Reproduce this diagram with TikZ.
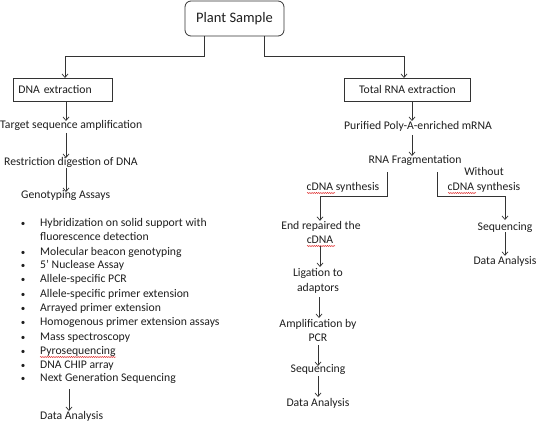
\documentclass[tikz,border=0pt]{standalone}
\usepackage{fontspec}
\setmainfont{Carlito}
\usetikzlibrary{arrows.meta,decorations.pathmorphing}
\definecolor{ink}{HTML}{1E1E1E}
\definecolor{wire}{HTML}{333333}
\tikzset{
  txt/.style={inner sep=0pt, text height=8pt, text depth=2pt, font=\fontsize{11.7}{14}\selectfont, text=ink},
  ctxt/.style={txt, align=center},
  ltxt/.style={txt, anchor=west},
  bul/.style={txt, font=\fontsize{9}{10}\selectfont},
  boxnode/.style={draw=wire, line width=0.8pt, inner sep=0pt, font=\fontsize{11.7}{14}\selectfont, text=ink},
  arr/.style={draw=wire, line width=0.7pt, -{Straight Barb[length=3.5pt,width=6pt]}},
  squig/.style={draw=red!85!black, line width=0.4pt, decorate, decoration={snake, amplitude=0.5pt, segment length=2.2pt}}
}
\begin{document}
\begin{tikzpicture}[x=1pt,y=-1pt]
\useasboundingbox (0,0) rectangle (537,422);
% top box
\node[boxnode, rounded corners=6pt, minimum width=99pt, minimum height=35pt, font=\fontsize{14.5}{17}\selectfont] (ps) at (234.5,18.5) {Plant Sample};
\node[boxnode, minimum width=99pt, minimum height=23pt, anchor=north west, align=left, text width=89pt, inner xsep=5pt] (dna) at (13,78) {DNA extraction};
\node[boxnode, minimum width=126pt, minimum height=23pt, anchor=north west] (rna) at (344,78) {Total RNA extraction};
\draw[arr] (ps.south -| 204,0) -- (204,56) -| (dna.north -| 65,0);
\draw[arr] (ps.south -| 264,0) -- (264,56) -| (rna.north -| 404,0);
% left column
\node[ltxt] (tsa) at (0,126) {Target sequence amplification};
\node[ltxt] (rdd) at (4,162) {Restriction digestion of DNA};
\node[ltxt] (ga) at (21,195) {Genotyping Assays};
\draw[arr] (dna.south -| 66,0) -- (66,121);
\draw[arr] (66,133) -- (66,158);
\draw[arr] (66,168) -- (66,192);
% bullet list
\foreach \yy/\tt [count=\i] in {
 223/{Hybridization on solid support with},
 252/{Molecular beacon genotyping},
 265/{5’ Nuclease Assay},
 279/{Allele-specific PCR},
 294/{Allele-specific primer extension},
 308/{Arrayed primer extension},
 322/{Homogenous primer extension assays},
 337/{Mass spectroscopy},
 351/{Pyrosequencing},
 365/{DNA CHIP array},
 378/{Next Generation Sequencing}}{
  \node[bul] (b\i) at (23,\yy) {•};
  \node[ltxt] (it\i) at (40,\yy) {\tt};
}
\node[ltxt] (it1b) at (40,237) {fluorescence detection};
\draw[squig] (40,357) -- (116,357);
\node[ltxt] (dal) at (40,416) {Data Analysis};
\draw[arr] (69,389) -- (69,411);
% right column
\node[ctxt] (pm) at (418,127) {Purified Poly-A-enriched mRNA};
\node[ctxt] (fr) at (415,161) {RNA Fragmentation};
\draw[arr] (rna.south -| 412,0) -- (412,121);
\draw[arr] (412,135) -- (412,156);
\node[ctxt] (cs) at (343,187) {cDNA synthesis};
\draw[squig] (307,193) -- (335,193);
\node[ctxt] (wo) at (484,172) {Without};
\node[ctxt] (wcs) at (484,187) {cDNA synthesis};
\draw[squig] (448,193) -- (476,193);
\coordinate (fl) at (387,172);
\coordinate (frr) at (437,172);
\node[ctxt] (er) at (321,226) {End repaired the};
\node[ctxt] (er2) at (320,240) {cDNA};
\draw[squig] (307,246) -- (335,246);
\draw[arr] (fl) -- (387,196) -| (er.north -| 320,0);
\draw[arr] (frr) -- (437,196) -| (505,220);
\node[ctxt] (sq) at (505,227) {Sequencing};
\node[ctxt] (dar) at (505,261) {Data Analysis};
\draw[arr] (sq.south) -- (dar.north);
\node[ctxt] (lg) at (318,273) {Ligation to};
\node[ctxt] (lg2) at (318,288) {adaptors};
\node[ctxt] (am) at (318,324) {Amplification by};
\node[ctxt] (am2) at (318,338) {PCR};
\node[ctxt] (sq2) at (318,369) {Sequencing};
\node[ctxt] (dam) at (318,403) {Data Analysis};
\draw[arr] (320,246) -- (320,267);
\draw[arr] (319,297) -- (319,318);
\draw[arr] (318,345) -- (318,366);
\draw[arr] (318,376) -- (318,397);
\end{tikzpicture}
\end{document}
